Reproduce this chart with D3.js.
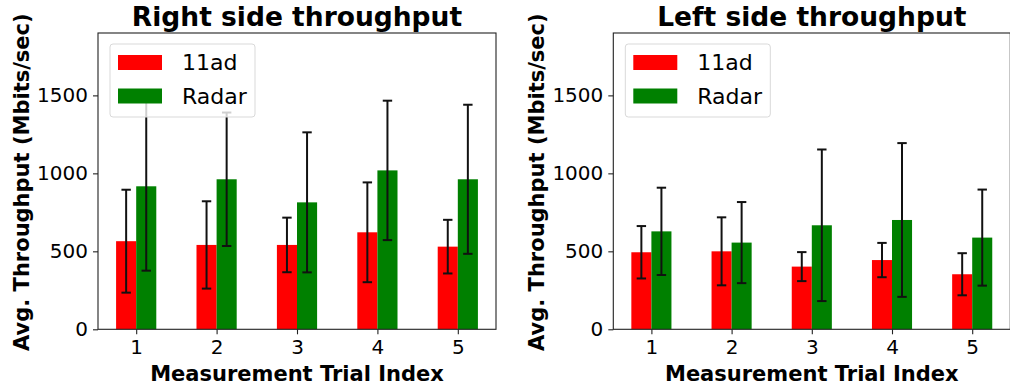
<!DOCTYPE html>
<html>
<head>
<meta charset="utf-8">
<script src="https://cdn.jsdelivr.net/npm/d3@7"></script>
<style>
  body { margin: 0; background: #fff; }
  svg { display: block; }
  svg text { font-family: "DejaVu Sans", sans-serif; }
</style>
</head>
<body>
<svg></svg>
<script>
// data
const trials = [1, 2, 3, 4, 5];
const seriesNames = ["11ad", "Radar"];
const seriesColors = ["#ff0000", "#008000"];
const yTicks = [0, 500, 1000, 1500];

const rightAd = [565, 541, 541, 622, 530];
const rightAdErr = [330, 280, 175, 320, 172];
const rightRadar = [917, 962, 814, 1019, 962];
const rightRadarErr = [541, 428, 449, 447, 478];

const leftAd = [494, 500, 402, 444, 353];
const leftAdErr = [168, 218, 93, 110, 135];
const leftRadar = [628, 556, 667, 701, 588];
const leftRadarErr = [280, 260, 486, 493, 308];

const svg_width = 1010;
const svg_height = 389;
const svg = d3.select("svg")
    .attr("width", svg_width)
    .attr("height", svg_height);

const top_y = 33, bottom_y = 329.3;
const barW = 0.25;

function drawPanel(x0, x1, title, means, errs) {
    const x = d3.scaleLinear().domain([0.525, 5.475]).range([x0, x1]);
    const y = d3.scaleLinear().domain([0, 1900]).range([bottom_y, top_y]);
    const g = svg.append("g");

    // bars
    means.forEach((vals, s) => {
        g.selectAll(null)
            .data(trials)
            .enter().append("rect")
            .attr("x", (d) => x(d + (s === 0 ? -barW : 0)))
            .attr("width", x(barW) - x(0))
            .attr("y", (d, i) => y(vals[i]))
            .attr("height", (d, i) => y(0) - y(vals[i]))
            .attr("fill", seriesColors[s]);
    });

    // error bars
    means.forEach((vals, s) => {
        const cx = (d) => x(d + (s === 0 ? -barW / 2 : barW / 2));
        const eb = g.selectAll(null)
            .data(trials)
            .enter().append("g")
            .attr("stroke", "#111")
            .attr("stroke-width", 2);
        eb.append("line")
            .attr("x1", cx).attr("x2", cx)
            .attr("y1", (d, i) => y(vals[i] - errs[s][i]))
            .attr("y2", (d, i) => y(vals[i] + errs[s][i]));
        [-1, 1].forEach((sign) => {
            eb.append("line")
                .attr("x1", (d) => cx(d) - 4.7)
                .attr("x2", (d) => cx(d) + 4.7)
                .attr("y1", (d, i) => y(vals[i] + sign * errs[s][i]))
                .attr("y2", (d, i) => y(vals[i] + sign * errs[s][i]));
        });
    });

    // axes
    const xAxis = g.append("g")
        .attr("transform", `translate(0,${bottom_y})`)
        .call(d3.axisBottom(x).tickValues(trials).tickFormat(d3.format("d")).tickSize(5).tickPadding(5));
    const yAxis = g.append("g")
        .attr("transform", `translate(${x0},0)`)
        .call(d3.axisLeft(y).tickValues(yTicks).tickFormat(d3.format("d")).tickSize(5).tickPadding(5));
    [xAxis, yAxis].forEach((a) => {
        a.attr("font-size", null).attr("font-family", null);
        a.select(".domain").remove();
        a.selectAll("line").attr("stroke", "#222").attr("stroke-width", 1.1);
        a.selectAll("text").attr("fill", "#000").attr("font-size", 20);
    });
    xAxis.selectAll("text").attr("dy", "0.76em");

    // frame
    g.append("rect")
        .attr("x", x0).attr("y", top_y)
        .attr("width", x1 - x0).attr("height", bottom_y - top_y)
        .attr("fill", "none")
        .attr("stroke", "#222")
        .attr("stroke-width", 1.1);

    // legend
    const lg = g.append("g").attr("transform", `translate(${x0 + 12},44)`);
    lg.append("rect")
        .attr("width", 145).attr("height", 73)
        .attr("rx", 3)
        .attr("fill", "#fff").attr("fill-opacity", 0.8)
        .attr("stroke", "#d9d9d9");
    seriesNames.forEach((name, s) => {
        lg.append("rect")
            .attr("x", 8).attr("y", 11 + s * 33.5)
            .attr("width", 44).attr("height", 15)
            .attr("fill", seriesColors[s]);
        lg.append("text")
            .attr("x", 72).attr("y", 26 + s * 33.5)
            .attr("font-size", 22)
            .text(name);
    });

    // titles
    svg.append("text")
        .attr("x", (x0 + x1) / 2).attr("y", 26)
        .attr("text-anchor", "middle")
        .attr("font-size", 26.5).attr("font-weight", "bold")
        .text(title);
    svg.append("text")
        .attr("x", (x0 + x1) / 2).attr("y", 381)
        .attr("text-anchor", "middle")
        .attr("font-size", 21).attr("font-weight", "bold")
        .text("Measurement Trial Index");
    svg.append("text")
        .attr("transform", `translate(${x0 - 69},${(top_y + bottom_y) / 2 + 1}) rotate(-90)`)
        .attr("text-anchor", "middle")
        .attr("font-size", 21).attr("font-weight", "bold")
        .text("Avg. Throughput (Mbits/sec)");
}

drawPanel(98, 496, "Right side throughput",
    [rightAd, rightRadar], [rightAdErr, rightRadarErr]);
drawPanel(613.3, 1010.3, "Left side throughput",
    [leftAd, leftRadar], [leftAdErr, leftRadarErr]);
</script>
</body>
</html>
